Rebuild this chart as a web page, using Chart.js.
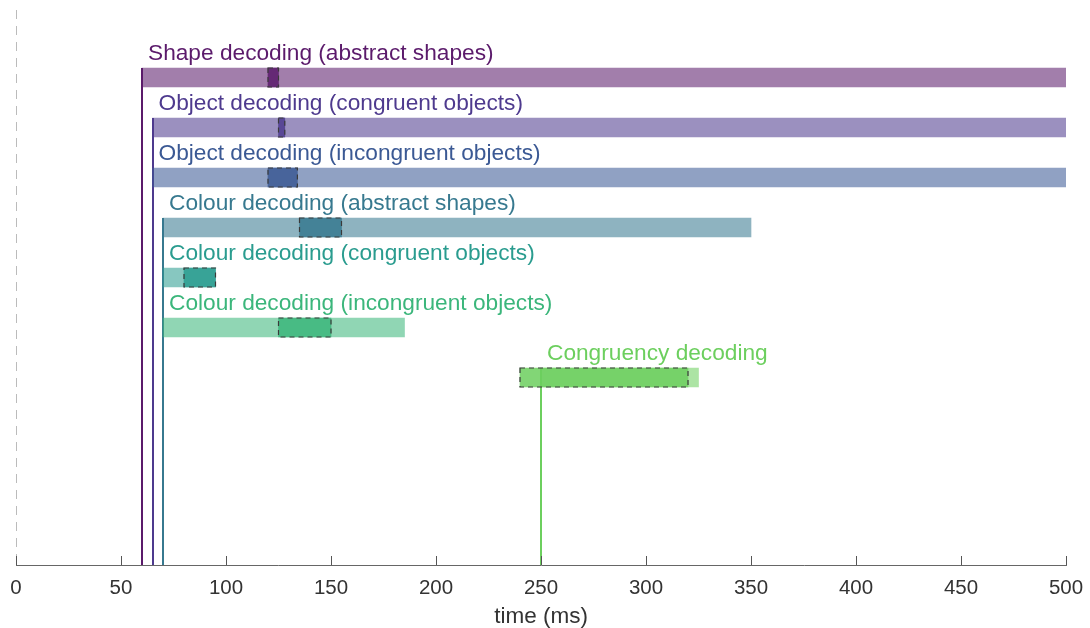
<!DOCTYPE html>
<html>
<head>
<meta charset="utf-8">
<script src="https://cdn.jsdelivr.net/npm/chart.js@4/dist/chart.umd.min.js"></script>
<style>
  html, body { margin: 0; padding: 0; background: #fff; }
  #wrap { width: 1090px; height: 628px; }
</style>
</head>
<body>
<div id="wrap"><canvas id="decodingChart"></canvas></div>
<script>
// Decoding onsets / durations / peaks (ms)
const labels = [
    "Shape decoding (abstract shapes)",
    "Object decoding (congruent objects)",
    "Object decoding (incongruent objects)",
    "Colour decoding (abstract shapes)",
    "Colour decoding (congruent objects)",
    "Colour decoding (incongruent objects)",
    "Congruency decoding"
];
const rows = [1, 2, 3, 4, 5, 6, 7];
const onsets = [60, 65, 65, 70, 70, 70, 250];
const ends = [500, 500, 500, 350, 95, 185, 325];
const peakStart = [120, 125, 120, 135, 80, 125, 240];
const peakEnd = [125, 128, 134, 155, 95, 150, 320];
const xTicks = [0, 50, 100, 150, 200, 250, 300, 350, 400, 450, 500];

const colors = ["#5b1a6b", "#4e3a8e", "#3b5994", "#37798f", "#2a9c8f", "#3bb67b", "#6ccf5e"];
const FONT = "'Liberation Sans', Arial, Helvetica, sans-serif";

// onset lines drawn under the bars, labels + dashed peak boxes on top
const decorations = {
    id: "decorations",
    beforeDatasetsDraw(chart) {
        const ctx = chart.ctx;
        const x = chart.scales.x;
        const area = chart.chartArea;
        const bars = chart.getDatasetMeta(0).data;
        ctx.save();
        // dashed line at time zero
        ctx.strokeStyle = "#bbb";
        ctx.lineWidth = 1;
        ctx.setLineDash([9, 7]);
        const zx = Math.round(x.getPixelForValue(0)) + 0.5;
        ctx.beginPath();
        ctx.moveTo(zx, area.top);
        ctx.lineTo(zx, area.bottom);
        ctx.stroke();
        ctx.setLineDash([]);
        for (let i = rows.length - 1; i >= 0; i--) {
            const el = bars[i];
            const px = Math.round(x.getPixelForValue(onsets[i]));
            ctx.strokeStyle = colors[i];
            ctx.lineWidth = 2;
            ctx.beginPath();
            ctx.moveTo(px, el.y - el.height / 2);
            ctx.lineTo(px, area.bottom);
            ctx.stroke();
        }
        ctx.restore();
    },
    afterDatasetsDraw(chart) {
        const ctx = chart.ctx;
        const x = chart.scales.x;
        const bars = chart.getDatasetMeta(0).data;
        const peaks = chart.getDatasetMeta(1).data;
        ctx.save();
        // dashed outline round the peak boxes
        ctx.setLineDash([5, 4]);
        ctx.strokeStyle = "#3a3a3a";
        ctx.lineWidth = 1.2;
        peaks.forEach(function (el) {
            const left = Math.min(el.x, el.base);
            const w = Math.abs(el.x - el.base);
            ctx.strokeRect(left, el.y - el.height / 2, w, el.height);
        });
        ctx.setLineDash([]);
        // row labels
        ctx.font = "22.7px " + FONT;
        ctx.textAlign = "left";
        ctx.textBaseline = "alphabetic";
        labels.forEach(function (lab, i) {
            const el = bars[i];
            ctx.fillStyle = colors[i];
            ctx.fillText(lab, x.getPixelForValue(onsets[i]) + 6, el.y - el.height / 2 - 8);
        });
        // inward tick marks on the time axis
        ctx.strokeStyle = "#555";
        ctx.lineWidth = 1;
        const bottom = chart.chartArea.bottom;
        xTicks.forEach(function (t) {
            const px = Math.round(x.getPixelForValue(t)) + 0.5;
            ctx.beginPath();
            ctx.moveTo(px, bottom);
            ctx.lineTo(px, bottom - 9);
            ctx.stroke();
        });
        ctx.restore();
    }
};

const ctx = document.getElementById("decodingChart").getContext("2d");
const decodingChart = new Chart(ctx, {
    type: "bar",
    data: {
        datasets: [
            {
                label: "significant decoding",
                data: rows.map((r, i) => ({ y: r, x: [onsets[i], ends[i]] })),
                backgroundColor: colors.map(c => c + "90"),
                borderWidth: 0,
                barThickness: 19,
                grouped: false,
                order: 2
            },
            {
                label: "peak",
                data: rows.map((r, i) => ({ y: r, x: [peakStart[i], peakEnd[i]] })),
                backgroundColor: colors.map(c => c + "d9"),
                borderWidth: 0,
                barThickness: 19,
                grouped: false,
                order: 1
            }
        ]
    },
    options: {
        indexAxis: "y",
        responsive: true,
        maintainAspectRatio: false,
        animation: false,
        layout: {
            padding: { left: 16, right: 24, top: 10, bottom: 0 }
        },
        plugins: {
            legend: { display: false },
            tooltip: { enabled: false }
        },
        scales: {
            x: {
                type: "linear",
                min: 0,
                max: 500,
                afterBuildTicks: function (axis) {
                    axis.ticks = xTicks.map(v => ({ value: v }));
                },
                afterFit: function (axis) {
                    axis.height = 63;
                    axis.paddingLeft = 0;
                    axis.paddingRight = 0;
                },
                grid: { display: false, drawTicks: false },
                border: { display: true, color: "#666", width: 1 },
                ticks: {
                    color: "#333",
                    font: { size: 20.5, family: FONT },
                    padding: 11,
                    maxRotation: 0
                },
                title: {
                    display: true,
                    text: "time (ms)",
                    color: "#333",
                    font: { size: 22.5, family: FONT, lineHeight: 1 },
                    padding: { top: 5, bottom: 0 }
                }
            },
            y: {
                type: "linear",
                reverse: true,
                offset: false,
                min: -0.35,
                max: 10.75,
                grid: { display: false, drawTicks: false },
                ticks: { display: false },
                border: { display: false }
            }
        }
    },
    plugins: [decorations]
});
</script>
</body>
</html>
